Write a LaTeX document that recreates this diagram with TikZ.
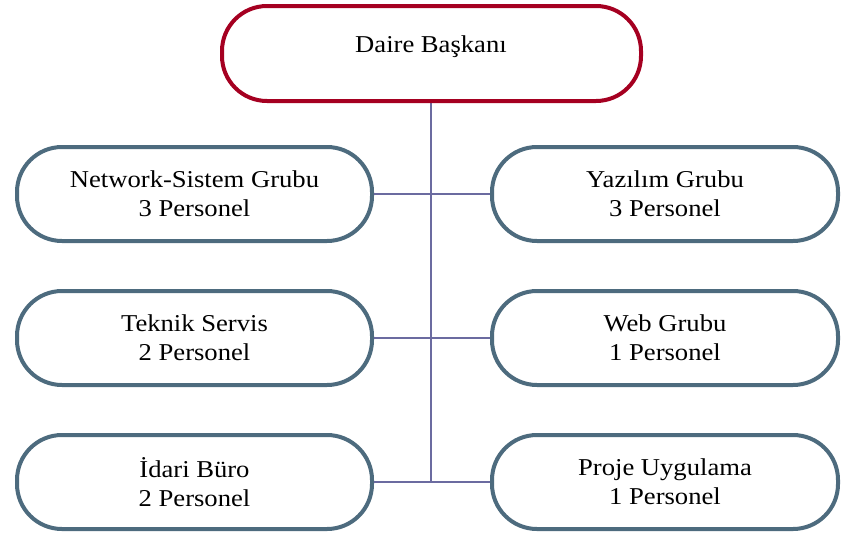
\documentclass[tikz,border=0pt]{standalone}
\usepackage{fontspec}
\newfontfamily\unitfont[FakeStretch=1.1]{LiberationSerif-Regular.ttf}
\begin{document}
\definecolor{headred}{HTML}{A50021}
\definecolor{unitblue}{HTML}{4D6B7E}
\definecolor{linkviolet}{HTML}{6B6BA0}
\begin{tikzpicture}[x=1pt,y=-1pt,
  unit/.style={draw=unitblue, line width=4pt, rounded corners=45pt, fill=white,
    align=center, inner sep=0pt, font=\unitfont\fontsize{24.2}{29}\selectfont},
  leftunit/.style={unit, minimum width=355pt, minimum height=94pt},
  rightunit/.style={unit, minimum width=346pt, minimum height=94pt},
  headbox/.style={draw=headred, line width=4pt, rounded corners=45pt, fill=white,
    minimum width=419pt, minimum height=95pt, inner sep=0pt},
  label/.style={inner sep=0pt, font=\unitfont\fontsize{24.2}{29}\selectfont},
  link/.style={draw=linkviolet, line width=1.5pt}]
\useasboundingbox (0,0) rectangle (842,533);

% connectors first, boxes drawn over them
\coordinate (trunkend) at (431,482);
\coordinate (trunktop) at (431,101);
\draw[link] (trunktop) -- (trunkend);

\node[headbox] (head) at (431.5,53.5) {};
\node[label, anchor=base] (headtext) at (431,52) {Daire Başkanı};

\node[leftunit] (net) at (194.5,194) {Network-Sistem Grubu\\3 Personel};
\node[leftunit] (tech) at (194.5,338) {Teknik Servis\\2 Personel};
\node[leftunit] (office) at (194.5,482) {İdari Büro\\2 Personel};

\node[rightunit] (soft) at (665,194) {Yazılım Grubu\\3 Personel};
\node[rightunit] (web) at (665,338) {Web Grubu\\1 Personel};
\node[rightunit] (proj) at (665,482) {Proje Uygulama\\1 Personel};

\draw[link] (net.east) -- (soft.west);
\draw[link] (tech.east) -- (web.west);
\draw[link] (office.east) -- (proj.west);
\end{tikzpicture}
\end{document}
